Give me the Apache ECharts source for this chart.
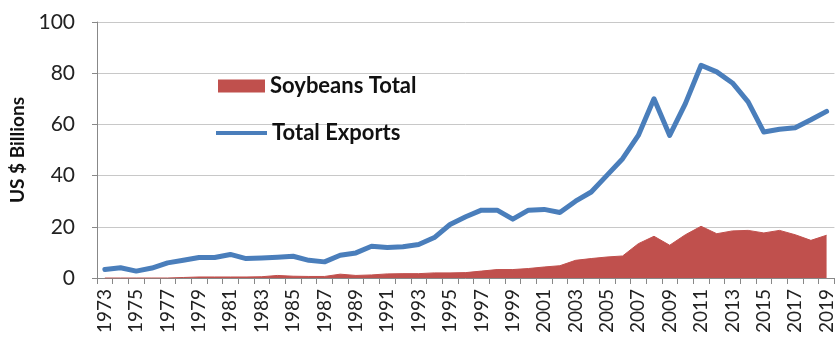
<!DOCTYPE html>
<html>
<head>
<meta charset="utf-8">
<script src="https://cdn.jsdelivr.net/npm/echarts@6/dist/echarts.min.js"></script>
<style>html,body{margin:0;padding:0;background:#fff}#c{width:836px;height:340px}</style>
</head>
<body>
<div id="c"></div>
<script>
const years = ['1973','1974','1975','1976','1977','1978','1979','1980','1981','1982','1983','1984','1985','1986','1987','1988','1989','1990','1991','1992','1993','1994','1995','1996','1997','1998','1999','2000','2001','2002','2003','2004','2005','2006','2007','2008','2009','2010','2011','2012','2013','2014','2015','2016','2017','2018','2019'];
const soybeansTotal = [0,0,0,0,0,0.2,0.4,0.4,0.4,0.4,0.5,1.0,0.7,0.6,0.6,1.5,1.0,1.2,1.6,1.7,1.7,2.0,2.0,2.1,2.7,3.3,3.3,3.7,4.3,4.8,6.9,7.6,8.2,8.6,13.4,16.3,12.8,16.9,20.2,17.3,18.4,18.6,17.6,18.6,16.9,14.7,16.7];
const totalExports = [3.3,4.0,2.7,3.9,5.9,6.9,8.0,8.0,9.2,7.6,7.8,8.1,8.5,6.9,6.3,8.9,9.8,12.4,11.9,12.2,13.1,15.8,20.9,23.9,26.5,26.5,23.0,26.5,26.8,25.6,30.0,33.6,40.1,46.6,55.7,70.0,55.7,68.1,83.1,80.5,76.2,68.8,57.0,58.1,58.7,61.8,65.1];
const yTicks = [0,20,40,60,80,100];

const chart = echarts.init(document.getElementById('c'), null, {renderer:'canvas'});
chart.setOption({
  animation:false,
  backgroundColor:'#fff',
  grid:{left:92, right:-1, top:22, bottom:62, containLabel:false},
  legend:[
    {data:[{name:'Soybeans Total', icon:'rect'}], left:213, top:70, itemWidth:47, itemHeight:13, itemGap:5,
     textStyle:{fontFamily:'Lato', fontWeight:'bold', fontSize:22, color:'#111'}},
    {data:[{name:'Total Exports', icon:'rect'}], left:211, top:117, itemWidth:51, itemHeight:4, itemGap:5,
     textStyle:{fontFamily:'Lato', fontWeight:'bold', fontSize:22, color:'#111'}}
  ],
  xAxis:{
    type:'category', data:years, boundaryGap:true,
    axisLine:{lineStyle:{color:'#888', width:1}},
    axisTick:{show:true, interval:0, length:6, lineStyle:{color:'#888'}},
    axisLabel:{interval:1, rotate:90, fontFamily:'Lato', fontSize:19, color:'#222', margin:11}
  },
  yAxis:{
    type:'value', min:0, max:100, interval:20,
    name:'US $ Billions', nameLocation:'middle', nameGap:70, nameRotate:90,
    nameTextStyle:{fontFamily:'Lato', fontWeight:'bold', fontSize:19, color:'#111'},
    axisLine:{show:true, lineStyle:{color:'#888'}},
    axisTick:{show:true, length:5, lineStyle:{color:'#888'}},
    axisLabel:{fontFamily:'Lato', fontSize:21, color:'#222', margin:22,
      formatter:v=>yTicks.includes(v)?String(v):''},
    splitLine:{show:true, lineStyle:{color:'#c8c8c8', width:1}}
  },
  series:[
    {name:'Soybeans Total', type:'line', data:soybeansTotal, symbol:'none',
     itemStyle:{color:'#c0504d'}, lineStyle:{color:'#c0504d', width:1},
     areaStyle:{color:'#c0504d', opacity:1}, z:2},
    {name:'Total Exports', type:'line', data:totalExports, symbol:'none',
     itemStyle:{color:'#4a7ebb'}, lineStyle:{color:'#4a7ebb', width:5, join:'round', cap:'round'}, z:3}
  ]
});
</script>
</body>
</html>
